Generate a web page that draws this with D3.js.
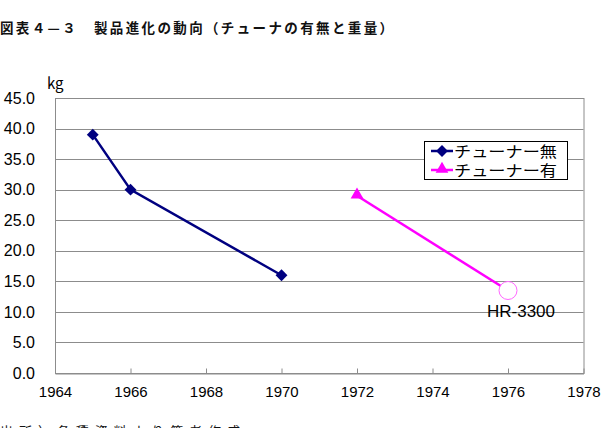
<!DOCTYPE html>
<html>
<head>
<meta charset="utf-8">
<script src="https://cdn.jsdelivr.net/npm/d3@7"></script>
<style>
  body { margin: 0; background: #fff; }
  svg { display: block; }
</style>
</head>
<body>
<svg id="chart"></svg>
<script>
// data
const titleText = "図表４—３　製品進化の動向（チューナの有無と重量）";
const sourceText = "出所）各種資料より筆者作成";
const unitLabel = "kg";
const yearsNoTuner = [1965, 1966, 1970];
const weightNoTuner = [39, 30, 16];
const yearsTuner = [1972, 1976];
const weightTuner = [29, 13.5];
const seriesNames = ["チューナー無", "チューナー有"];
const noteLabel = "HR-3300";
const xTicks = [1964, 1966, 1968, 1970, 1972, 1974, 1976, 1978];
const yTicks = [0, 5, 10, 15, 20, 25, 30, 35, 40, 45];

const width = 606;
const height = 428;
const margin = { top: 98, right: 22, bottom: 55, left: 55 };
const numFont = "'Liberation Sans', Arial, sans-serif";
const jpFont = "'Noto Sans CJK JP', sans-serif";

const svg = d3.select("#chart")
    .attr("width", width)
    .attr("height", height);

const x = d3.scaleLinear()
    .domain([1964, 1978])
    .range([margin.left, width - margin.right - 0.5]);

const y = d3.scaleLinear()
    .domain([0, 45])
    .range([height - margin.bottom, margin.top]);

// title
svg.append("text")
    .attr("x", 0)
    .attr("y", 33)
    .attr("textLength", 393)
    .attr("lengthAdjust", "spacing")
    .style("font-family", jpFont)
    .style("font-size", "13.5px")
    .style("font-weight", "bold")
    .attr("fill", "#111")
    .text(titleText);

// gridlines
svg.append("g")
    .selectAll("line")
    .data(yTicks.filter(d => d > 0))
    .join("line")
    .attr("x1", x(1964))
    .attr("x2", x(1978))
    .attr("y1", d => Math.round(y(d)) + 0.5)
    .attr("y2", d => Math.round(y(d)) + 0.5)
    .attr("stroke", "#8c8c8c")
    .attr("stroke-width", 1);

// plot frame
svg.append("rect")
    .attr("x", x(1964) + 0.5)
    .attr("y", Math.round(y(45)) + 0.5)
    .attr("width", x(1978) - x(1964))
    .attr("height", Math.round(y(0)) - Math.round(y(45)))
    .attr("fill", "none")
    .attr("stroke", "#8c8c8c");

// y axis
const yAxis = svg.append("g")
    .attr("transform", `translate(${x(1964)},0)`)
    .call(d3.axisLeft(y).tickValues(yTicks).tickFormat(d3.format(".1f")).tickSize(0).tickPadding(20));
yAxis.select(".domain").remove();
yAxis.selectAll("text")
    .style("font-family", numFont)
    .style("font-size", "16px")
    .attr("fill", "#000");

// x axis
const xAxis = svg.append("g")
    .attr("transform", `translate(0,${Math.round(y(0)) + 0.5})`)
    .call(d3.axisBottom(x).tickValues(xTicks).tickFormat(d3.format("d")).tickSizeInner(-5).tickSizeOuter(0).tickPadding(13));
xAxis.select(".domain").attr("stroke", "#8c8c8c");
xAxis.selectAll(".tick line").attr("stroke", "#8c8c8c");
xAxis.selectAll("text")
    .style("font-family", numFont)
    .style("font-size", "15px")
    .attr("fill", "#000");

// unit label
svg.append("text")
    .attr("x", 47)
    .attr("y", 89)
    .style("font-family", jpFont)
    .style("font-size", "15px")
    .text(unitLabel);

const line = d3.line()
    .x(d => x(d[0]))
    .y(d => y(d[1]));

// series without tuner
const noTuner = d3.zip(yearsNoTuner, weightNoTuner);
svg.append("path")
    .datum(noTuner)
    .attr("fill", "none")
    .attr("stroke", "#000080")
    .attr("stroke-width", 2.5)
    .attr("d", line);

const diamond = d3.symbol().type(d3.symbolDiamond2).size(90);
svg.append("g")
    .selectAll("path")
    .data(noTuner)
    .join("path")
    .attr("transform", d => `translate(${x(d[0])},${y(d[1])})`)
    .attr("d", diamond)
    .attr("fill", "#000080");

// series with tuner
const tuner = d3.zip(yearsTuner, weightTuner);
svg.append("path")
    .datum(tuner)
    .attr("fill", "none")
    .attr("stroke", "#ff00ff")
    .attr("stroke-width", 2.5)
    .attr("d", line);

const triangle = d3.symbol().type(d3.symbolTriangle).size(70);
svg.append("path")
    .attr("transform", `translate(${x(tuner[0][0])},${y(tuner[0][1]) - 1})`)
    .attr("d", triangle)
    .attr("fill", "#ff00ff");

// annotation circle + label on last point
const last = tuner[tuner.length - 1];
svg.append("circle")
    .attr("cx", x(last[0]))
    .attr("cy", y(last[1]))
    .attr("r", 9)
    .attr("fill", "#fff")
    .attr("stroke", "#ff66ff")
    .attr("stroke-width", 1);

svg.append("text")
    .attr("x", x(last[0]) + 13)
    .attr("y", y(last[1]) + 26)
    .attr("text-anchor", "middle")
    .style("font-family", numFont)
    .style("font-size", "17px")
    .attr("fill", "#000")
    .text(noteLabel);

// legend
const legend = svg.append("g").attr("transform", "translate(424,141)");
legend.append("rect")
    .attr("x", 0.5)
    .attr("y", 0.5)
    .attr("width", 143)
    .attr("height", 38)
    .attr("fill", "#fff")
    .attr("stroke", "#000")
    .attr("stroke-width", 1);

const legendColors = ["#000080", "#ff00ff"];
const legendSymbols = [diamond, triangle];
seriesNames.forEach((name, i) => {
    const cy = 10 + i * 19;
    legend.append("line")
        .attr("x1", 7).attr("x2", 29)
        .attr("y1", cy).attr("y2", cy)
        .attr("stroke", legendColors[i])
        .attr("stroke-width", 2.5);
    legend.append("path")
        .attr("transform", `translate(18,${cy - i})`)
        .attr("d", legendSymbols[i])
        .attr("fill", legendColors[i]);
    legend.append("text")
        .attr("x", 30)
        .attr("y", cy + 6)
        .attr("textLength", 103)
        .attr("lengthAdjust", "spacingAndGlyphs")
        .style("font-family", jpFont)
        .style("font-size", "15px")
        .attr("fill", "#000")
        .text(name);
});

// source note (cut off at the bottom edge, as in the original)
svg.append("text")
    .attr("x", 0)
    .attr("y", 436)
    .attr("textLength", 240)
    .attr("lengthAdjust", "spacing")
    .style("font-family", jpFont)
    .style("font-size", "13px")
    .attr("fill", "#111")
    .text(sourceText);
</script>
</body>
</html>
